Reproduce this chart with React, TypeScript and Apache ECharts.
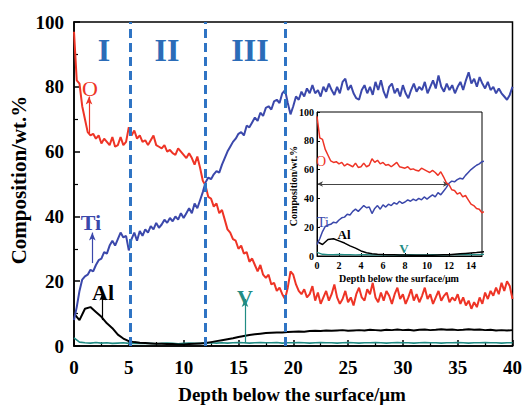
import React, { useEffect, useRef } from 'react';
import * as echarts from 'echarts';

// Sampling steps (µm)
const MAIN_STEP = 0.25;
const MINOR_STEP = 0.5;

// O (wt.%), step 0.25 µm from 0 to 40
const O_VALUES = [
  97, 82, 81, 74, 70, 66, 65, 65.5, 64, 65,
  62.5, 64, 63, 62, 64.5, 61.5, 62, 64.5, 62, 63,
  67.5, 65, 66.5, 64, 65, 63, 63.5, 62, 63.5, 65,
  62, 61.5, 61, 62, 60, 60.5, 59.5, 59, 61, 60,
  59, 58, 59.5, 58, 56, 58.5, 55, 51, 49.5, 46,
  45.5, 43, 44, 41, 42, 39, 36, 35, 33, 32.5,
  30, 31, 28.5, 29, 26, 27, 25, 23, 25, 22,
  21, 22, 19, 19.5, 17, 18, 16, 14.5, 18, 23,
  22, 19, 17, 16, 17.5, 15, 16, 18.5, 14, 16.5,
  13, 15, 17, 14, 16, 19, 15, 13, 14.5, 17,
  13.5, 15, 12.5, 16, 18, 15, 14, 17.5, 16, 19.5,
  15, 13.5, 16.5, 14, 17, 15.5, 13, 16, 18, 14.5,
  16, 13, 15, 17.5, 14, 16, 13.5, 15.5, 18, 14.5,
  16, 13, 15, 17, 14, 15.5, 16.5, 13.5, 15, 14,
  16, 13, 15, 12.5, 14, 11.5, 13.5, 12, 15, 13,
  16.5, 14.5, 17, 15.5, 18, 16, 19.5, 17, 20, 18.5,
  14.5,
];

// Ti (wt.%), step 0.25 µm
const TI_VALUES = [
  8, 12, 17, 20.5, 21.5, 22, 23.5, 23, 25, 26.5,
  27, 29, 28.5, 31, 32.5, 31, 33, 35, 33.5, 34,
  29.5, 33, 35, 32.5, 35.5, 34, 36, 35, 37, 36,
  38, 36.5, 37.5, 39, 38, 39.5, 38.5, 40, 39, 41,
  39.5, 41, 42.5, 41, 44, 42.5, 45, 47.5, 50.5, 52,
  51.5, 53, 54, 53.5, 56, 58, 60, 61.5, 63, 64,
  65.5, 66, 65, 68, 67.5, 69, 70.5, 69.5, 72, 71,
  73.5, 74, 73, 75.5, 76, 75, 78, 79, 75, 71.5,
  74, 77, 76, 78.5, 77, 79.5, 78, 80.5, 78, 79,
  77, 80, 78.5, 81, 79, 77.5, 80, 78, 81.5, 82.5,
  79, 80.5, 78, 76.5, 76, 79, 80.5, 78, 80, 77.5,
  81.5, 79, 82, 78.5, 76.5, 80, 81, 78, 79.5, 77,
  80.5, 78, 76.5, 79, 81, 78.5, 80, 79, 81.5, 78,
  80, 82, 79.5, 83.5, 80, 78.5, 81, 79, 80.5, 78,
  80, 81.5, 79, 82, 84.5, 81, 82.5, 80, 83, 81,
  79.5, 81.5, 79, 80, 78, 79.5, 78, 77, 76, 77.5,
  80,
];

// Al (wt.%), step 0.5 µm
const AL_VALUES = [
  10, 8, 11.5, 12, 10.5, 9, 7, 5.5, 3.5, 2.3,
  1.5, 1.2, 1.0, 0.9, 0.8, 0.7, 0.7, 0.6, 0.6, 0.5,
  0.5, 0.6, 0.7, 0.8, 0.9, 1.2, 1.5, 1.8, 2.1, 2.4,
  2.8, 3.1, 3.4, 3.6, 3.8, 4.0, 4.1, 4.2, 4.2, 4.3,
  4.4, 4.5, 4.4, 4.6, 4.7, 4.6, 4.8, 4.7, 4.8, 4.9,
  4.7, 4.8, 4.9, 4.8, 5.0, 4.9, 4.8, 5.0, 4.9, 5.1,
  4.9, 5.0, 4.8, 5.0, 5.1, 4.9, 5.0, 5.2, 5.0, 5.1,
  4.9, 5.0, 5.2, 5.0, 5.1, 4.9, 5.0, 4.8, 4.9, 4.8,
  4.9,
];

// V (wt.%), step 0.5 µm
const V_VALUES = [
  2.5, 1.2, 1.0, 0.9, 1.1, 0.9, 1.0, 0.8, 0.9, 1.0,
  0.8, 0.9, 0.8, 0.9, 0.8, 0.7, 0.8, 0.9, 0.8, 0.7,
  0.8, 0.9, 0.8, 0.8, 0.9, 1.0, 0.9, 1.0, 0.9, 1.0,
  1.1, 1.0, 0.9, 1.0, 1.1, 1.0, 1.0, 1.1, 0.9, 1.0,
  1.0, 1.1, 1.0, 0.9, 1.0, 1.1, 1.0, 1.0, 0.9, 1.0,
  1.1, 1.0, 0.9, 1.0, 1.0, 1.1, 1.0, 0.9, 1.0, 1.1,
  1.0, 1.0, 0.9, 1.0, 1.1, 1.0, 1.0, 0.9, 1.0, 1.0,
  1.1, 1.0, 0.9, 1.0, 1.0, 1.1, 1.0, 1.0, 0.9, 1.0,
  1.0,
];

// Region boundaries (µm)
const DIVIDERS = [5.1, 12, 19.25];
const REGION_LABELS = ['I', 'II', 'III'];

// Annotation arrows: [x, yFrom, yTo] in data units
const O_ARROW = [1.37, 65.7, 77.0];
const TI_ARROW = [1.67, 25.6, 35.0];
const AL_ARROW = [2.62, 8.0, 16.5];
const V_ARROW = [15.6, 0.9, 14.5];
// Inset intersection arrow: [xFrom, xTo, y]
const INSET_ARROW = [0, 12, 50];

const FONT = 'Liberation Serif';
const C_O = '#ee3426';
const C_TI = '#3b48ab';
const C_AL = '#000000';
const C_V = '#218c84';
const C_DASH = '#2f74c4';
const C_REGION = '#2b6cb8';

const toPairs = (vals: number[], step: number) =>
  vals.map((v, i) => [Number((i * step).toFixed(2)), v]);

function arrowLine(a: number[], color: string) {
  return {
    silent: true,
    symbol: ['none', 'arrow'],
    symbolSize: [5, 8],
    label: { show: false },
    lineStyle: { color, width: 1.2, type: 'solid' },
    data: [[{ coord: [a[0], a[1]], symbol: 'none' }, { coord: [a[0], a[2]], symbol: 'arrow', symbolSize: [5, 8] }]],
  };
}

function txt(text: string, x: number, y: number, color: string, size: number, weight = 'bold', rotation = 0) {
  return {
    type: 'text',
    x,
    y,
    rotation,
    z: 100,
    silent: true,
    style: {
      text,
      fill: color,
      fontSize: size,
      fontWeight: weight,
      fontFamily: FONT,
      align: 'center',
      verticalAlign: 'middle',
      textAlign: 'center',
      textVerticalAlign: 'middle',
    },
  };
}

export default function App() {
  const ref = useRef<HTMLDivElement>(null);

  useEffect(() => {
    if (!ref.current) return;
    const chart = echarts.init(ref.current, undefined, { renderer: 'svg' });

    const O = toPairs(O_VALUES, MAIN_STEP);
    const TI = toPairs(TI_VALUES, MAIN_STEP);
    const AL = toPairs(AL_VALUES, MINOR_STEP);
    const V = toPairs(V_VALUES, MINOR_STEP);

    const axisCommon = (size: number, margin: number, tickLen: number, lw: number) => ({
      splitLine: { show: false },
      axisLine: { onZero: false, lineStyle: { color: '#000', width: lw } },
      axisTick: { inside: true, length: tickLen, lineStyle: { color: '#000', width: lw } },
      axisLabel: { color: '#000', fontFamily: FONT, fontWeight: 'bold', fontSize: size, margin },
    });

    const lineS = (name: string, data: number[][], color: string, width: number, xi: number, extra: any = {}) => ({
      name,
      type: 'line',
      xAxisIndex: xi,
      yAxisIndex: xi,
      data,
      showSymbol: false,
      symbol: 'none',
      clip: true,
      lineStyle: { color, width },
      itemStyle: { color },
      z: xi === 1 ? 10 : 2,
      ...extra,
    });

    const option: any = {
      animation: false,
      backgroundColor: '#fff',
      textStyle: { fontFamily: FONT },
      grid: [
        { left: 74, right: 12, top: 22, bottom: 61, show: true, borderColor: '#000', borderWidth: 1.5, backgroundColor: 'transparent' },
        { left: 317, right: 43, top: 112, bottom: 151, show: true, borderColor: '#000', borderWidth: 1, backgroundColor: '#fff', z: 5 },
      ],
      xAxis: [
        {
          gridIndex: 0, type: 'value', min: 0, max: 40, interval: 5,
          ...axisCommon(19, 12, 6, 1.5),
          minorTick: { show: true, splitNumber: 2, length: 4, lineStyle: { color: '#000', width: 1.2 } },
        },
        {
          gridIndex: 1, type: 'value', min: 0, max: 15, interval: 2, z: 10,
          ...axisCommon(10, 5, 3, 1),
          axisLabel: { color: '#000', fontFamily: FONT, fontWeight: 'bold', fontSize: 10, margin: 4, showMaxLabel: false },
        },
      ],
      yAxis: [
        {
          gridIndex: 0, type: 'value', min: 0, max: 100, interval: 20,
          ...axisCommon(19, 10, 6, 1.5),
          minorTick: { show: true, splitNumber: 2, length: 4, lineStyle: { color: '#000', width: 1.2 } },
        },
        {
          gridIndex: 1, type: 'value', min: 0, max: 100, interval: 20, z: 10,
          ...axisCommon(10, 3, 3, 1),
        },
      ],
      series: [
        lineS('V', V, C_V, 1.6, 0, { markLine: arrowLine(V_ARROW, C_V) }),
        lineS('Al', AL, C_AL, 2, 0, { markLine: arrowLine(AL_ARROW, C_AL) }),
        lineS('Ti', TI, C_TI, 2, 0, { markLine: arrowLine(TI_ARROW, C_TI) }),
        lineS('O', O, C_O, 2, 0, { markLine: arrowLine(O_ARROW, C_O) }),
        {
          name: 'dividers',
          type: 'line',
          xAxisIndex: 0,
          yAxisIndex: 0,
          data: [],
          z: 3,
          markLine: {
            silent: true,
            symbol: 'none',
            label: { show: false },
            lineStyle: { color: C_DASH, width: 3, type: [9, 5] },
            data: DIVIDERS.map((d) => ({ xAxis: d })),
          },
        },
        lineS('V inset', V, C_V, 1.3, 1),
        lineS('Al inset', AL, C_AL, 1.5, 1),
        lineS('Ti inset', TI, C_TI, 1.5, 1),
        lineS('O inset', O, C_O, 1.5, 1, {
          markLine: {
            silent: true,
            symbol: ['arrow', 'arrow'],
            symbolSize: [4, 6],
            label: { show: false },
            lineStyle: { color: '#444', width: 1, type: 'solid' },
            data: [[{ coord: [INSET_ARROW[0], INSET_ARROW[2]] }, { coord: [INSET_ARROW[1], INSET_ARROW[2]] }]],
          },
        }),
      ],
      graphic: [
        // region labels
        txt(REGION_LABELS[0], 104, 50, C_REGION, 32),
        txt(REGION_LABELS[1], 167, 50, C_REGION, 32),
        txt(REGION_LABELS[2], 250, 50, C_REGION, 32),
        // series labels (main)
        txt('O', 90, 88, C_O, 22, 'normal'),
        txt('Ti', 91, 222, C_TI, 22),
        txt('Al', 103, 292, C_AL, 22),
        txt('V', 245, 297, C_V, 22),
        // axis titles (main)
        txt('Depth below the surface/\u03bcm', 292, 394, '#000', 19),
        txt('Composition/wt.%', 19, 180, '#000', 21, 'bold', Math.PI / 2),
        // inset labels
        txt('O', 321, 161, C_O, 14, 'normal'),
        txt('Ti', 323, 222, C_TI, 14, 'normal'),
        txt('Al', 344, 234, C_AL, 13),
        txt('V', 404, 248, C_V, 13),
        txt('Depth below the surface/\u03bcm', 399, 278, '#000', 10),
        txt('Composition/wt.%', 293, 186, '#000', 10, 'bold', Math.PI / 2),
      ],
    };

    chart.setOption(option);
    return () => chart.dispose();
  }, []);

  return (
    <div
      ref={ref}
      style={{ position: 'absolute', left: 0, top: 0, width: 525, height: 407, background: '#fff' }}
    />
  );
}
